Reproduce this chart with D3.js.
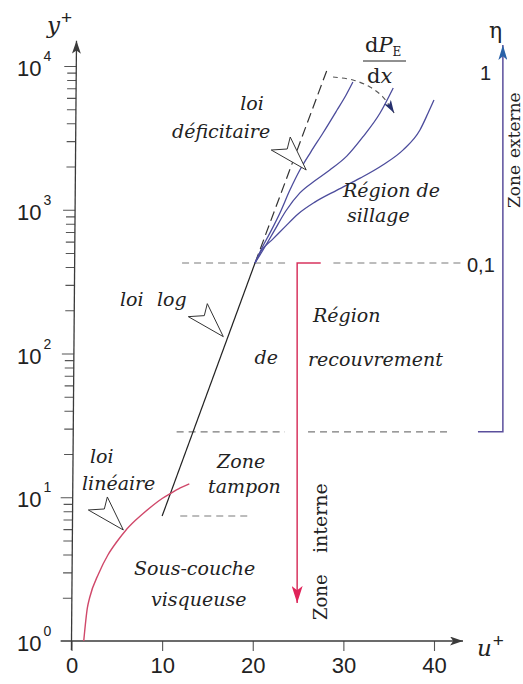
<!DOCTYPE html>
<html><head><meta charset="utf-8">
<script src="https://cdn.jsdelivr.net/npm/d3@7"></script>
<style>body{margin:0;background:#fff} svg{display:block}</style>
</head><body>
<svg id="c" width="523" height="684"></svg>
<script>
// ---------- data (u+, y+) ----------
const xTicks = [0, 10, 20, 30, 40];
const yMajor = [1, 10, 100, 1000, 10000];
const yMajorExp = ["0", "1", "2", "3", "4"];
const yMinorMult = [2, 3, 4, 5, 6, 7, 8, 9];

// linear law (sous-couche visqueuse)
const linU = [1.35, 1.75, 2, 3, 4, 5, 6, 7, 8, 9, 10, 11, 12, 13];
const linY = [1, 1.7, 2, 2.95, 3.95, 4.9, 5.9, 6.85, 7.8, 8.8, 9.8, 10.7, 11.6, 12.4];

// log law : solid part then dashed extension
const logU = [10.0, 20.25, 28.2];
const logY = [7.4, 426, 9400];

// wake curves (three pressure gradients)
const wake1U = [20.25, 21.0, 21.9, 23.0, 24.1, 25.2, 26.4, 27.75, 29.3, 30.3, 31.05];
const wake1Y = [426, 540, 690, 950, 1370, 1890, 2520, 3420, 4940, 6290, 7740];
const wake2U = [20.25, 21.25, 22.35, 23.65, 25.2, 26.85, 28.5, 30.4, 32.15, 34.05, 35.5];
const wake2Y = [426, 540, 710, 980, 1310, 1590, 1890, 2370, 3210, 4710, 7030];
const wake3U = [20.25, 21.0, 22.1, 23.55, 25.0, 26.85, 29.3, 31.85, 34.35, 36.6, 38.45, 39.35, 40.0];
const wake3Y = [426, 525, 615, 760, 935, 1130, 1370, 1660, 2050, 2610, 3590, 4710, 5800];

// horizontal dashed boundaries
const dashY  = [426, 426, 28.5, 28.5, 7.4];
const dashU0 = [12.2, 28.9, 11.6, 26.1, 12.0];
const dashU1 = [23.8, 43.2, 23.55, 41.8, 19.9];

// inner-zone arrow (red) and outer-zone arrow (blue)
const innerArrowU = [27.5, 24.9, 24.9];
const innerArrowY = [426, 426, 1.84];
const outerArrowU = [44.85, 47.6, 47.6];
const outerArrowY = [28.5, 28.5, 14000];

// dP/dx arrow
const dpU = [28.86, 31.06, 32.94, 34.37, 35.6];
const dpY = [8380, 7990, 7140, 6085, 4710];

// hollow pointers (tip positions)
const pointerU = [25.9, 16.75, 5.72];
const pointerY = [1890, 131, 5.92];

// ---------- drawing ----------
const svg = d3.select("#c");
const x = d3.scaleLinear().domain([0, 40]).range([71.5, 434]);
const y = d3.scaleLog().domain([1, 1e4]).range([641, 66]);
const pts = (us, ys) => us.map((u, i) => [u, ys[i]]);
const smooth = d3.line().x(d => x(d[0])).y(d => y(d[1])).curve(d3.curveMonotoneX);
const arc = d3.line().x(d => x(d[0])).y(d => y(d[1])).curve(d3.curveCatmullRom.alpha(0.5));
const straight = d3.line().x(d => x(d[0])).y(d => y(d[1]));

const defs = svg.append("defs");
function marker(id, color, len, half) {
  defs.append("marker").attr("id", id).attr("viewBox", `0 0 ${len} ${half*2}`)
    .attr("refX", len).attr("refY", half).attr("markerWidth", len).attr("markerHeight", half*2)
    .attr("markerUnits", "userSpaceOnUse").attr("orient", "auto")
    .append("path").attr("d", `M0,0 L${len},${half} L0,${half*2} L${len*0.25},${half} Z`).attr("fill", color);
}
marker("axArrow", "#3a3a3a", 13, 4.5);
marker("redArrow", "#e0245a", 17, 5.5);
marker("blueArrow", "#2a62a8", 15, 4.5);
marker("dpArrow", "#26306e", 13, 4);

const serif = "'DejaVu Serif', serif";
const sans = "'Liberation Sans', Arial, sans-serif";

// dashed boundaries
dashY.forEach((v, i) => {
  svg.append("path").attr("d", straight([[dashU0[i], v], [dashU1[i], v]]))
    .attr("stroke", "#7a7a7a").attr("stroke-width", 1.1).attr("stroke-dasharray", "7,5").attr("fill", "none");
});

// x axis
const gx = svg.append("g").attr("transform", `translate(0,${y(1)})`)
  .call(d3.axisBottom(x).tickValues(xTicks).tickSize(10).tickPadding(6).tickFormat(d3.format("d")));
gx.select(".domain").remove();
gx.selectAll(".tick line").attr("stroke", "#555").attr("stroke-width", 1.1);
gx.selectAll(".tick text").attr("font-family", sans).attr("font-size", 22).attr("fill", "#222");
svg.append("path").attr("d", straight([[-1.2, 1], [43.2, 1]]))
  .attr("stroke", "#3a3a3a").attr("stroke-width", 1.3).attr("marker-end", "url(#axArrow)");

// y axis (slightly leaning like the scanned original)
const gyWrap = svg.append("g").attr("transform", `translate(${x(0)},641) skewX(-0.477) translate(0,-641)`);
const minor = [];
[1, 10, 100, 1000].forEach(b => yMinorMult.forEach(m => minor.push(b * m)));
gyWrap.append("g").call(d3.axisLeft(y).tickValues(minor).tickSize(9).tickFormat(""));
gyWrap.append("g").call(d3.axisLeft(y).tickValues(yMajor.slice(1)).tickSize(12).tickFormat(""));
gyWrap.selectAll(".domain").remove();
gyWrap.selectAll(".tick line").attr("stroke", "#555").attr("stroke-width", 1.1);
gyWrap.append("line").attr("x1", 0).attr("x2", 0).attr("y1", 650).attr("y2", y(15000))
  .attr("stroke", "#3a3a3a").attr("stroke-width", 1.3).attr("marker-end", "url(#axArrow)");

yMajor.forEach((v, i) => {
  const t = svg.append("text").attr("x", 17).attr("y", y(v) + 10)
    .attr("font-family", sans).attr("font-size", 22).attr("fill", "#222");
  t.append("tspan").text("10");
  t.append("tspan").attr("dy", -15).attr("dx", 2).attr("font-size", 14).text(yMajorExp[i]);
});

// axis titles
const yt = svg.append("text").attr("x", 47).attr("y", 33).attr("fill", "#222");
yt.append("tspan").attr("font-family", serif).attr("font-style", "italic").attr("font-size", 23).text("y");
yt.append("tspan").attr("font-family", sans).attr("font-size", 19).attr("dy", -9).attr("dx", 1).text("+");
const ut = svg.append("text").attr("x", 477).attr("y", 656).attr("fill", "#222");
ut.append("tspan").attr("font-family", serif).attr("font-style", "italic").attr("font-size", 23).text("u");
ut.append("tspan").attr("font-family", sans).attr("font-size", 19).attr("dy", -9).attr("dx", 1).text("+");

// log law
svg.append("path").attr("d", straight(pts(logU, logY).slice(0, 2)))
  .attr("stroke", "#222").attr("stroke-width", 1.2).attr("fill", "none");
svg.append("path").attr("d", straight(pts(logU, logY).slice(1)))
  .attr("stroke", "#333").attr("stroke-width", 1.2).attr("stroke-dasharray", "10,5").attr("fill", "none");

// wake curves
[[wake1U, wake1Y], [wake2U, wake2Y], [wake3U, wake3Y]].forEach(([us, ys]) => {
  svg.append("path").attr("d", smooth(pts(us, ys)))
    .attr("stroke", "#4c4c9c").attr("stroke-width", 1.3).attr("fill", "none");
});

// linear law
svg.append("path").attr("d", smooth(pts(linU, linY)))
  .attr("stroke", "#d0486a").attr("stroke-width", 1.4).attr("fill", "none");

// dP/dx arrow
svg.append("path").attr("d", arc(pts(dpU, dpY)))
  .attr("stroke", "#555").attr("stroke-width", 1.1).attr("stroke-dasharray", "5,4").attr("fill", "none")
  .attr("marker-end", "url(#dpArrow)");

// zone arrows
svg.append("path").attr("d", straight(pts(innerArrowU, innerArrowY)))
  .attr("stroke", "#d8355f").attr("stroke-width", 1.5).attr("fill", "none").attr("marker-end", "url(#redArrow)");
svg.append("path").attr("d", straight(pts(outerArrowU, outerArrowY)))
  .attr("stroke", "#5a4f9c").attr("stroke-width", 1.5).attr("fill", "none").attr("marker-end", "url(#blueArrow)");

// hollow pointers
pointerU.forEach((u, i) => {
  const tx = x(u), ty = y(pointerY[i]);
  const shape = [[0, 0], [-35, -20], [-19, -21], [-16, -33]];
  svg.append("path").attr("d", "M" + shape.map(p => [tx + p[0], ty + p[1]].join(",")).join("L") + "Z")
    .attr("fill", "#fff").attr("stroke", "#333").attr("stroke-width", 1);
});

// italic labels
const italic = [
  ["loi", 252, 110, "middle"], ["déficitaire", 172, 138, "start"],
  ["loi", 120, 306, "start"], ["log", 157, 306, "start"],
  ["loi", 90, 463, "start"], ["linéaire", 82, 490, "start"],
  ["Zone", 217, 468, "start"], ["tampon", 208, 493, "start"],
  ["Sous-couche", 134, 575, "start"], ["visqueuse", 151, 606, "start"],
  ["Région", 313, 322, "start"], ["de", 278, 364, "end"], ["recouvrement", 308, 366, "start"],
  ["Région de", 343, 197, "start"], ["sillage", 347, 222, "start"]
];
italic.forEach(([t, px, py, a]) => {
  svg.append("text").attr("x", px).attr("y", py).attr("text-anchor", a)
    .attr("font-family", serif).attr("font-style", "italic").attr("font-size", 19).attr("fill", "#222").text(t);
});

// dP_E / dx
const num = svg.append("text").attr("x", 365).attr("y", 52).attr("font-family", serif).attr("font-size", 21).attr("fill", "#222");
num.append("tspan").text("d");
num.append("tspan").attr("font-style", "italic").text("P");
num.append("tspan").attr("font-size", 12).attr("dy", 4).text("E");
svg.append("line").attr("x1", 363).attr("x2", 406).attr("y1", 61).attr("y2", 61).attr("stroke", "#222").attr("stroke-width", 1);
const den = svg.append("text").attr("x", 367).attr("y", 83).attr("font-family", serif).attr("font-size", 21).attr("fill", "#222");
den.append("tspan").text("d");
den.append("tspan").attr("font-style", "italic").text("x");

// eta scale labels
svg.append("text").attr("x", 489).attr("y", 38).attr("font-family", serif).attr("font-size", 22).attr("fill", "#222").text("η");
svg.append("text").attr("x", 480).attr("y", 80).attr("font-family", sans).attr("font-size", 20).attr("fill", "#222").text("1");
svg.append("text").attr("x", 467).attr("y", 272).attr("font-family", sans).attr("font-size", 20).attr("fill", "#222").text("0,1");

// vertical zone labels
function vtext(t, px, py, size) {
  svg.append("text").attr("transform", `translate(${px},${py}) rotate(-90)`)
    .attr("font-family", serif).attr("font-size", size).attr("fill", "#222").text(t);
}
vtext("Zone", 327, 620, 18); vtext("interne", 327, 553, 19);
vtext("Zone", 520, 208, 17); vtext("externe", 520, 158, 17);
</script>
</body></html>
